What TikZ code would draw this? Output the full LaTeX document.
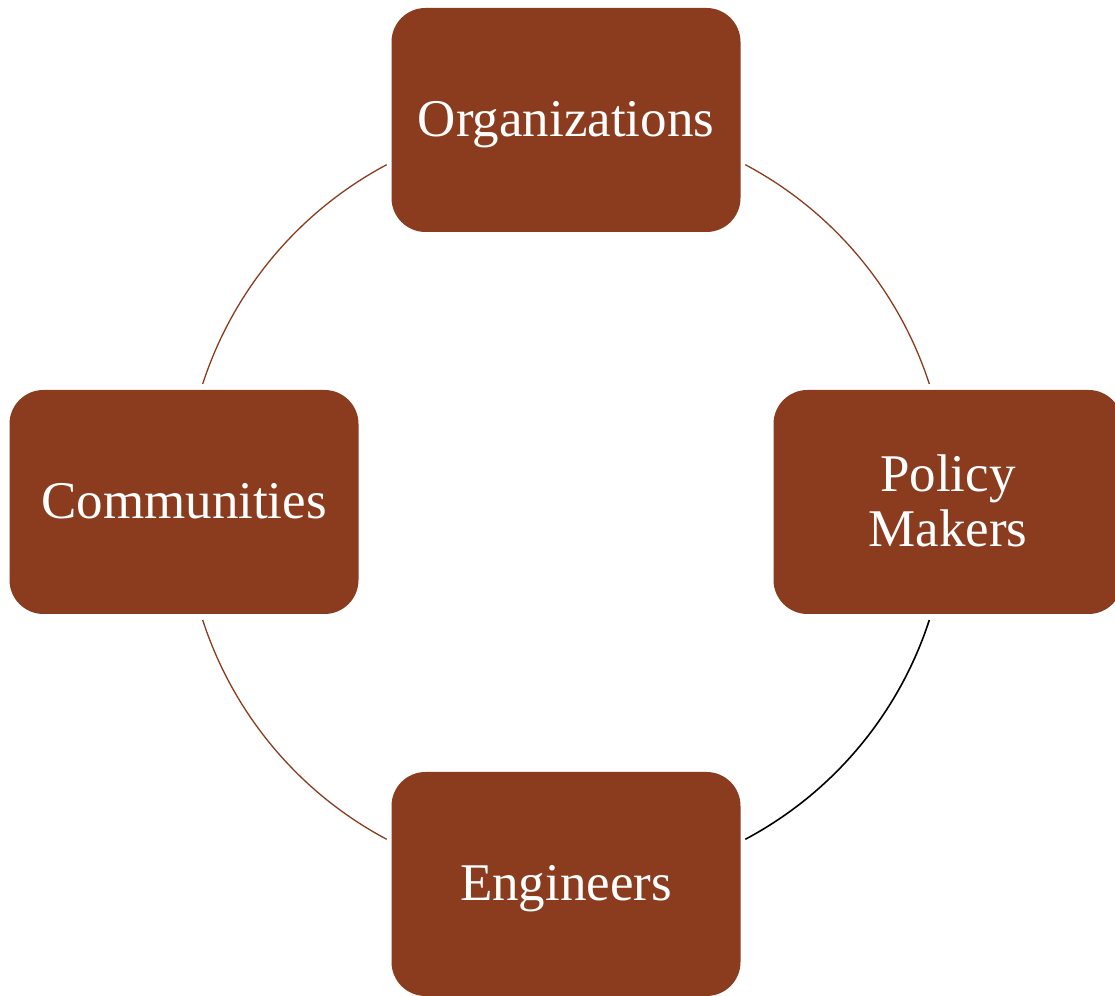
\documentclass[tikz,border=0pt]{standalone}
\usepackage{fontspec}
\setmainfont{Liberation Serif}
\usepackage{tikz}
\usetikzlibrary{positioning}
\definecolor{rust}{HTML}{8B3C1F}
\tikzset{
  stakebox/.style={draw=none, fill=rust, rounded corners=34pt, minimum width=349pt,
    minimum height=224pt, text=white, align=center, text depth=2pt,
    font=\fontsize{53}{55}\selectfont},
  ring/.style={rust, line width=1.3pt}
}

\begin{document}
\begin{tikzpicture}[x=1pt, y=1pt]
  \useasboundingbox (0,0) rectangle (1115,995);
  \fill[white] (0,0) rectangle (1115,995);

  % Centre of the ring
  \coordinate (c) at (566,493);

  % Arcs
  \draw[ring] ([shift={(118:382pt)}]c) arc[start angle=118, end angle=162, radius=382pt];
  \draw[ring] ([shift={(62:382pt)}]c) arc[start angle=62, end angle=18, radius=382pt];
  \draw[black, line width=1.6pt] ([shift={(-18:382pt)}]c) arc[start angle=-18, end angle=-62, radius=382pt];
  \draw[ring] ([shift={(-162:382pt)}]c) arc[start angle=-162, end angle=-118, radius=382pt];

  % Boxes
  \node[stakebox] (org) at ([shift={(90:382pt)}]c) {Organizations};
  \node[stakebox] (pol) at ([shift={(0:382pt)}]c) {Policy\\Makers};
  \node[stakebox] (eng) at ([shift={(-90:382pt)}]c) {Engineers};
  \node[stakebox] (com) at ([shift={(180:382pt)}]c) {Communities};
\end{tikzpicture}
\end{document}
